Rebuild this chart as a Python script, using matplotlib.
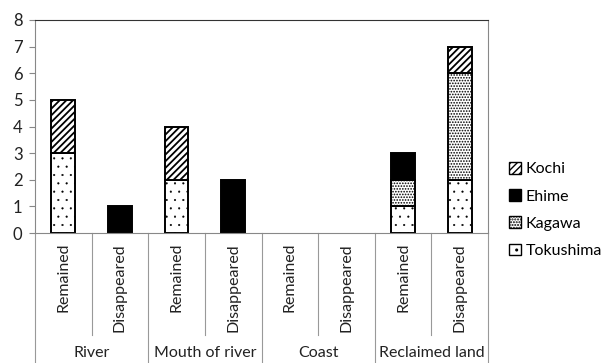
import numpy as np
import matplotlib.pyplot as plt
import matplotlib.transforms as mtransforms
from matplotlib.patches import Patch

plt.rcParams['font.family'] = ['Lato', 'DejaVu Sans']

# data
groups = ['River', 'Mouth of river', 'Coast', 'Reclaimed land']
states = ['Remained', 'Disappeared']
tokushima = [3, 0, 2, 0, 0, 0, 1, 2]
kagawa = [0, 0, 0, 0, 0, 0, 1, 4]
ehime = [0, 1, 0, 2, 0, 0, 1, 0]
kochi = [2, 0, 2, 0, 0, 0, 0, 1]

W, H = 609, 363
fig = plt.figure(figsize=(W / 100, H / 100), dpi=100)
ax = fig.add_axes([35 / W, 1 - 233 / H, (488 - 35) / W, (233 - 20) / H])

x = np.arange(len(tokushima))
bw = 0.42
# name, values, face colour, hatch, hatch line width
series = [
    ('Tokushima', tokushima, 'white', '..', 0.3),
    ('Kagawa', kagawa, 'white', '......', 0.8),
    ('Ehime', ehime, 'black', None, 1.0),
    ('Kochi', kochi, 'white', '/////', 1.3),
]
bottom = np.zeros(len(x))
handles = []
for name, vals, fc, hatch, hlw in series:
    vals = np.array(vals, dtype=float)
    keep = vals > 0
    with plt.rc_context({'hatch.linewidth': hlw}):
        bars = ax.bar(x[keep], vals[keep], bw, bottom=bottom[keep], color=fc,
                      edgecolor='black', linewidth=1.4, hatch=hatch)
        hp = Patch(facecolor=fc, edgecolor='black', linewidth=1.0,
                   hatch=hatch, label=name)
    for p in list(bars.patches) + [hp]:
        if hasattr(p, 'set_hatch_linewidth'):
            p.set_hatch_linewidth(hlw)
    handles.append(hp)
    bottom += vals

ax.set_xlim(-0.5, 7.5)
ax.set_ylim(0, 8)
ax.set_yticks(range(9))
ax.tick_params(axis='y', labelsize=12, length=4, color='#888888', pad=5,
               labelcolor='#222222')
ax.set_xticks([])
for s in ['left', 'bottom', 'right']:
    ax.spines[s].set_color('#888888')
ax.spines['top'].set_color('#333333')

# category area below the axis
trans = mtransforms.blended_transform_factory(ax.transData, fig.transFigure)
y0 = 1 - 233 / H
for b in [0.5, 2.5, 4.5, 6.5]:
    ax.plot([b, b], [y0, 1 - 335 / H], color='#999999', lw=0.8,
            transform=trans, clip_on=False)
for b in [-0.5, 1.5, 3.5, 5.5, 7.5]:
    ax.plot([b, b], [y0, 0], color='#999999', lw=0.8,
            transform=trans, clip_on=False)
for i in x:
    ax.text(i, 1 - 243 / H, states[i % 2], rotation=90, ha='center',
            va='top', fontsize=11.5, color='#222222', transform=trans)
for g, name in enumerate(groups):
    ax.text(2 * g + 0.5, 1 - 353 / H, name, ha='center', va='center',
            fontsize=11.5, color='#222222', transform=trans)

fig.legend(handles=handles[::-1],
           loc='center left', bbox_to_anchor=(503 / W, 1 - 210 / H),
           frameon=False, fontsize=11.5, handlelength=0.75, handleheight=0.75,
           handletextpad=0.25, labelspacing=0.8, borderaxespad=0)

fig.savefig('out.png', dpi=100)
